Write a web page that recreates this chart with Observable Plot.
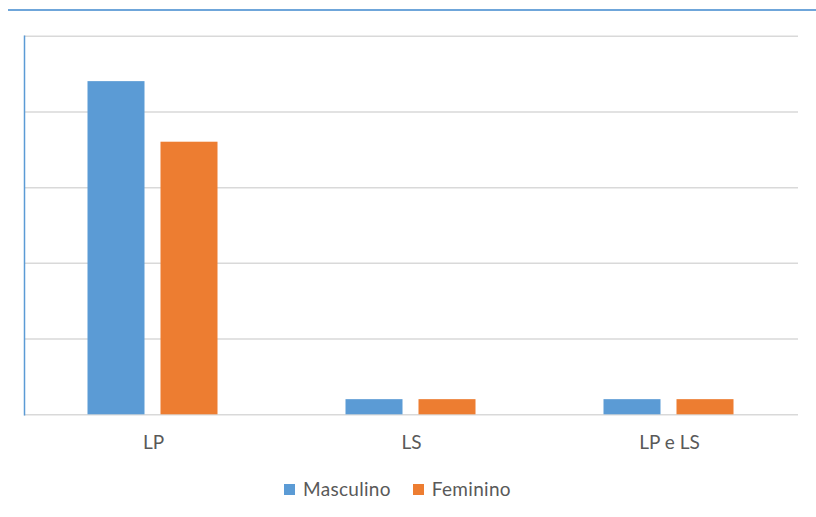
<!DOCTYPE html>
<html>
<head>
<meta charset="utf-8">
<script src="https://cdn.jsdelivr.net/npm/d3@7"></script>
<script src="https://cdn.jsdelivr.net/npm/@observablehq/plot@0.6"></script>
<style>
  html, body { margin: 0; padding: 0; background: #fff; }
  #page { position: relative; width: 816px; height: 517px; overflow: hidden; font-family: Lato, "Open Sans", sans-serif; }
  #topline { position: absolute; left: 8px; top: 9px; width: 808px; height: 2px; background: #6fa6da; }
  #chart { position: absolute; left: 0; top: 0; }
  #legend { position: absolute; left: 284px; top: 478px; display: flex; align-items: center; font-size: 19px; letter-spacing: 0.3px; color: #595959; line-height: 22px; }
  .item { display: flex; align-items: center; margin-right: 22px; }
  .sw { width: 11px; height: 11px; margin-right: 8px; }
</style>
</head>
<body>
<div id="page">
  <div id="topline"></div>
  <div id="chart"></div>
  <div id="legend"></div>
</div>
<script>
// Categories, series and their counts
const categories = ["LP", "LS", "LP e LS"];
const series = ["Masculino", "Feminino"];
const masculino = [22, 1, 1];
const feminino = [18, 1, 1];
const colors = ["#5b9bd5", "#ed7d31"];
const yTicks = [5, 10, 15, 20, 25];

const data = categories.flatMap((c, i) => [
  {categoria: c, sexo: series[0], valor: masculino[i]},
  {categoria: c, sexo: series[1], valor: feminino[i]}
]);

const chart = Plot.plot({
  width: 816,
  height: 460,
  marginLeft: 23.5,
  marginRight: 18.3,
  marginTop: 35.7,
  marginBottom: 45.7,
  style: {fontFamily: "Lato, 'Open Sans', sans-serif", fontSize: "19px", color: "#595959", background: "transparent"},
  fx: {domain: categories, padding: 0, label: null, tickSize: 0, tickPadding: 21},
  x: {domain: series, paddingInner: 0.213, paddingOuter: 0.856, axis: null},
  y: {domain: [0, 25], axis: null},
  color: {domain: series, range: colors},
  marks: [
    Plot.ruleY(yTicks, {stroke: "#d9d9d9", strokeWidth: 1.5}),
    Plot.ruleY([0], {stroke: "#d9d9d9", strokeWidth: 1.5}),
    Plot.barY(data, {fx: "categoria", x: "sexo", y: "valor", fill: "sexo"}),
    Plot.frame({anchor: "left", facetAnchor: "left", stroke: "#5b9bd5", strokeWidth: 1.5})
  ]
});
document.getElementById("chart").appendChild(chart);

// Legend built from the series and colours
const legend = document.getElementById("legend");
series.forEach((s, i) => {
  const item = document.createElement("div");
  item.className = "item";
  const sw = document.createElement("span");
  sw.className = "sw";
  sw.style.background = colors[i];
  const label = document.createElement("span");
  label.textContent = s;
  item.appendChild(sw);
  item.appendChild(label);
  legend.appendChild(item);
});
</script>
</body>
</html>
